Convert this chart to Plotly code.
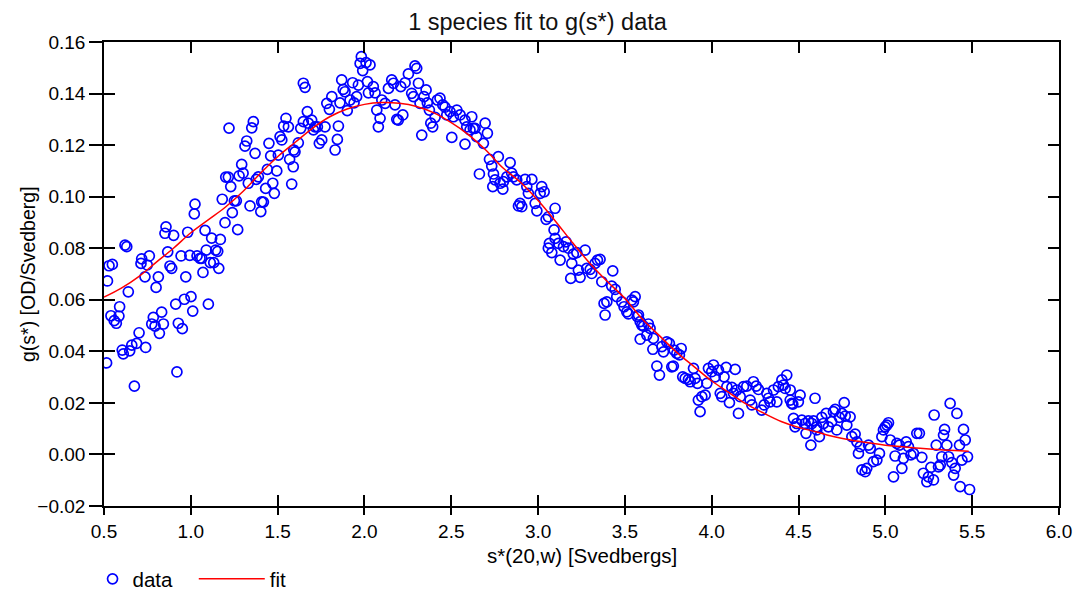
import plotly.graph_objects as go

# ---- data ----
points = [
    (0.515,0.0355),(0.52,0.0673),(0.529,0.0732),(0.548,0.0737),(0.54,0.0538),(0.559,0.0519),(0.571,0.0509),
    (0.586,0.0537),(0.59,0.0573),(0.621,0.0812),(0.631,0.0806),(0.64,0.0631),(0.605,0.0405),(0.611,0.039),
    (0.648,0.0402),(0.66,0.0424),(0.675,0.0265),(0.688,0.0431),(0.702,0.0472),(0.717,0.0759),(0.713,0.0741),
    (0.736,0.0689),(0.74,0.0415),(0.749,0.0735),(0.761,0.077),(0.775,0.0506),(0.784,0.0532),(0.8,0.0648),
    (0.813,0.0689),(0.794,0.0498),(0.819,0.047),(0.832,0.0552),(0.842,0.0506),(0.857,0.0883),(0.851,0.0858),
    (0.867,0.0786),(0.88,0.0731),(0.89,0.0722),(0.901,0.085),(0.913,0.0583),(0.92,0.032),(0.928,0.0509),
    (0.944,0.077),(0.951,0.0488),(0.963,0.0602),(0.971,0.0689),(0.982,0.0862),(0.994,0.0772),(1.001,0.0612),
    (1.011,0.0556),(1.024,0.0971),(1.02,0.0933),(1.036,0.077),(1.053,0.0761),(1.063,0.0761),(1.07,0.0706),
    (1.082,0.0869),(1.089,0.0793),(1.101,0.0583),(1.112,0.0744),(1.12,0.0839),(1.132,0.0744),(1.143,0.0793),
    (1.155,0.0788),(1.161,0.0722),(1.17,0.0834),(1.181,0.099),(1.197,0.0899),(1.201,0.1076),(1.216,0.1076),
    (1.22,0.1266),(1.23,0.1039),(1.239,0.0938),(1.251,0.0984),(1.262,0.0984),(1.27,0.0872),(1.278,0.1081),
    (1.293,0.1125),(1.301,0.1091),(1.312,0.1196),(1.322,0.1216),(1.331,0.1052),(1.341,0.0964),(1.351,0.1267),
    (1.36,0.1291),(1.37,0.1168),(1.377,0.1067),(1.389,0.1077),(1.403,0.0942),(1.408,0.098),(1.418,0.0979),
    (1.431,0.1032),(1.441,0.1106),(1.45,0.1207),(1.46,0.1158),(1.472,0.1052),(1.481,0.1013),(1.495,0.11),
    (1.504,0.1161),(1.514,0.1233),(1.524,0.122),(1.535,0.1274),(1.548,0.1304),(1.562,0.1271),(1.569,0.1145),
    (1.581,0.1049),(1.59,0.1116),(1.593,0.1181),
    (1.60,0.1174),(1.619,0.1209),(1.633,0.1265),(1.648,0.144),(1.658,0.1424),(1.648,0.1291),(1.671,0.133),
    (1.677,0.1285),(1.696,0.1297),(1.706,0.1259),(1.715,0.1271),(1.729,0.1271),(1.74,0.1207),(1.754,0.122),
    (1.773,0.1271),(1.783,0.1362),(1.798,0.1339),(1.812,0.1388),(1.831,0.1181),(1.844,0.1222),(1.85,0.1274),
    (1.859,0.1364),(1.869,0.1453),(1.878,0.1416),(1.888,0.1407),(1.901,0.1334),(1.917,0.1375),(1.932,0.1442),
    (1.94,0.1364),(1.955,0.1388),(1.965,0.1433),(1.975,0.1517),(1.982,0.1543),(1.99,0.1489),(2.009,0.152),
    (2.032,0.1511),(2.017,0.1446),(2.023,0.1403),(2.051,0.1427),(2.061,0.1403),(2.071,0.1336),(2.08,0.1271),
    (2.09,0.1304),(2.10,0.1375),(2.119,0.1362),(2.138,0.142),(2.157,0.1453),(2.167,0.144),(2.176,0.1356),
    (2.186,0.13),(2.195,0.1297),(2.209,0.1427),(2.221,0.1317),(2.234,0.1442),(2.253,0.1476),(2.272,0.1401),
    (2.282,0.1388),(2.291,0.1507),(2.301,0.1498),(2.311,0.144),(2.32,0.1362),(2.33,0.1239),(2.343,0.1388),
    (2.355,0.1414),(2.362,0.1364),(2.374,0.1336),(2.382,0.1285),(2.393,0.1271),(2.407,0.1308),(2.42,0.1375),
    (2.435,0.1382),(2.451,0.1356),(2.464,0.1347),(2.474,0.1317),(2.493,0.133),(2.503,0.123),(2.512,0.131),
    (2.532,0.1336),(2.551,0.1317),(2.579,0.1204),(2.589,0.1271),(2.618,0.131),(2.608,0.1259),(2.637,0.1265),
    (2.646,0.1233),(2.662,0.1088),
    (2.579,0.1297),(2.627,0.1265),(2.685,0.1207),(2.695,0.1285),(2.708,0.1246),(2.72,0.1145),(2.733,0.1119),
    (2.743,0.1088),(2.752,0.1065),(2.739,0.1039),(2.771,0.1155),(2.781,0.1052),(2.797,0.1029),(2.80,0.1058),
    (2.82,0.1077),(2.839,0.1132),(2.848,0.1091),(2.858,0.1077),(2.877,0.1065),(2.887,0.0964),(2.896,0.0974),
    (2.906,0.0961),(2.925,0.1067),(2.935,0.1039),(2.944,0.1013),(2.964,0.1067),(2.983,0.0974),(2.993,0.0945),
    (3.012,0.1013),(3.021,0.1039),(3.035,0.1019),(3.046,0.0912),(3.059,0.0922),(3.098,0.0955),(3.092,0.0871),
    (3.065,0.0819),(3.059,0.08),(3.079,0.0783),(3.098,0.0838),(3.117,0.0819),(3.127,0.0754),(3.146,0.0806),
    (3.161,0.0825),(3.175,0.08),(3.194,0.0741),(3.203,0.0777),(3.223,0.0783),(3.188,0.0683),(3.232,0.0715),
    (3.242,0.0687),(3.271,0.0793),(3.28,0.0722),(3.30,0.0718),(3.309,0.0702),(3.328,0.0741),(3.342,0.0754),
    (3.357,0.0757),(3.367,0.067),(3.38,0.0586),(3.386,0.0541),(3.396,0.0592),(3.43,0.0712),(3.424,0.0653),
    (3.444,0.064),(3.453,0.0612),(3.482,0.0592),(3.495,0.0573),(3.511,0.0553),(3.52,0.0545),(3.54,0.0599),
    (3.559,0.0612),(3.572,0.0535),(3.588,0.0515),(3.607,0.0498),(3.635,0.0506),
    (3.549,0.0592),(3.578,0.0541),(3.597,0.0502),(3.588,0.0447),(3.645,0.0489),(3.626,0.0463),(3.664,0.045),
    (3.661,0.0408),(3.684,0.0343),(3.699,0.0308),(3.713,0.0418),(3.722,0.0398),(3.741,0.0437),(3.756,0.0431),
    (3.77,0.034),(3.779,0.0343),(3.783,0.0405),(3.799,0.0392),(3.814,0.0386),(3.824,0.0411),(3.833,0.0301),
    (3.847,0.0295),(3.866,0.0291),(3.876,0.0282),(3.895,0.0334),(3.904,0.0295),(3.918,0.0276),(3.933,0.0166),
    (3.923,0.0211),(3.943,0.0224),(3.962,0.023),(3.972,0.0276),(3.981,0.0334),(4.0,0.0321),(4.01,0.0347),
    (4.02,0.0301),(4.039,0.0327),(4.049,0.0237),(4.058,0.0224),(4.071,0.0301),(4.083,0.0338),(4.087,0.0263),
    (4.102,0.0201),(4.116,0.026),(4.135,0.033),(4.125,0.0237),(4.144,0.025),(4.154,0.0159),(4.164,0.0224),
    (4.183,0.0263),(4.202,0.0265),(4.221,0.0211),(4.231,0.0192),(4.24,0.0282),(4.256,0.0265),(4.269,0.0252),
    (4.288,0.0172),(4.302,0.0192),(4.317,0.0237),(4.327,0.0218),(4.336,0.0204),(4.356,0.025),(4.375,0.0204),
    (4.384,0.0263),(4.404,0.0289),(4.413,0.0269),(4.432,0.0308),(4.452,0.025),(4.461,0.0198),(4.471,0.014),
    (4.509,0.023),(4.49,0.012),(4.519,0.0133),(4.538,0.012),(4.557,0.013),(4.571,0.0036),(4.576,0.012),
    (4.595,0.0218),(4.605,0.0107),
    (4.423,0.0256),(4.452,0.0211),(4.467,0.0195),(4.499,0.0204),(4.48,0.0107),(4.543,0.0082),(4.586,0.013),
    (4.605,0.0095),(4.62,0.0069),(4.634,0.0144),(4.643,0.012),(4.659,0.0159),(4.672,0.0107),(4.691,0.0127),
    (4.701,0.0166),(4.711,0.0175),(4.72,0.0095),(4.735,0.0144),(4.749,0.0159),(4.763,0.0201),(4.769,0.0149),
    (4.778,0.0114),(4.797,0.0146),(4.807,0.0069),(4.826,0.0079),(4.836,0.0049),(4.845,0.0004),(4.855,0.003),
    (4.865,-0.006),(4.884,-0.0067),(4.893,-0.0054),(4.903,0.0036),(4.913,0.0024),(4.931,-0.0028),(4.951,-0.0022),
    (4.966,0.0004),(4.98,0.0069),(4.989,0.0095),(4.999,0.0107),(5.009,0.0114),(5.018,0.0123),(5.028,0.0056),
    (5.047,-0.0087),(5.056,-0.0006),(5.066,0.0043),(5.081,0.0036),(5.095,-0.0054),(5.104,-0.0015),(5.12,0.0049),
    (5.133,0.003),(5.147,-0.0002),(5.162,0.0004),(5.181,0.0082),(5.196,0.0082),(5.21,-0.0011),(5.219,-0.0073),
    (5.239,-0.0106),(5.248,-0.0087),(5.262,-0.005),(5.277,-0.0099),(5.281,0.0153),(5.293,0.0036),(5.306,-0.0048),
    (5.316,-0.0041),(5.325,-0.0009),(5.335,0.0075),(5.341,0.0097),(5.354,0.0036),(5.364,-0.0009),(5.373,0.0198),
    (5.383,-0.0032),(5.393,-0.008),(5.402,-0.0054),(5.412,0.0159),(5.427,0.0036),(5.441,-0.0022),(5.45,0.0097),
    (5.46,0.0056),(5.431,-0.0125),(5.473,-0.0009),(5.485,-0.0136),
]
s_star = [p[0] for p in points]
g_star = [p[1] for p in points]

fit_s = [0.5,0.6,0.7,0.8,0.9,1.0,1.1,1.2,1.3,1.4,1.5,1.6,1.7,1.8,1.9,2.0,2.1,2.2,2.3,2.4,2.5,2.6,2.7,2.8,2.9,
         3.0,3.1,3.2,3.3,3.4,3.5,3.6,3.7,3.8,3.9,4.0,4.1,4.2,4.3,4.4,4.5,4.6,4.7,4.8,4.9,5.0,5.1,5.2,5.3,5.4,5.48]
fit_g = [0.061,0.0645,0.069,0.0745,0.080,0.086,0.091,0.096,0.102,0.109,0.1155,0.121,0.1265,0.131,0.134,0.1358,
         0.1365,0.1362,0.135,0.1325,0.1287,0.124,0.118,0.111,0.1055,0.0985,0.0905,0.082,0.074,0.067,0.0605,0.0525,
         0.046,0.0395,0.034,0.0285,0.024,0.0195,0.016,0.0128,0.0105,0.0088,0.007,0.0056,0.0045,0.0036,0.003,
         0.0024,0.0019,0.0015,0.0012]

x_range = [0.5, 6.0]
y_range = [-0.02, 0.16]
x_title = "s*(20,w) [Svedbergs]"
y_title = "g(s*) [OD/Svedberg]"
chart_title = "1 species fit to g(s*) data"

FONT = "Liberation Sans, Arial, sans-serif"

fig = go.Figure()
fig.add_trace(go.Scatter(
    x=s_star, y=g_star, mode="markers", name="data",
    marker=dict(symbol="circle-open", size=10, color="#0000FF", line=dict(width=1.7, color="#0000FF")),
    legend="legend",
))
fig.add_trace(go.Scatter(
    x=fit_s, y=fit_g, mode="lines", name="fit",
    line=dict(color="#FF0000", width=1.5, shape="spline"),
    legend="legend2",
))
# helper trace for the overlay axes that draw the inner ticks
fig.add_trace(go.Scatter(x=[None], y=[None], xaxis="x2", yaxis="y2", showlegend=False, hoverinfo="skip"))

axis_common = dict(showgrid=False, zeroline=False, showline=True, linecolor="black", linewidth=1.5,
                   tickcolor="black", tickwidth=1.5, automargin=False)

LEG_Y = 1 - 579 / 590

fig.update_layout(
    width=1075, height=590,
    margin=dict(l=104, r=16, t=42, b=84),
    paper_bgcolor="white", plot_bgcolor="white",
    font=dict(family=FONT, size=19, color="black"),
    title=dict(text=chart_title, x=0.5, xref="container", xanchor="center",
               y=1 - 22 / 590, yref="container", yanchor="middle", automargin=False,
               font=dict(family=FONT, size=23.5, color="#111111")),
    xaxis=dict(range=x_range, tick0=0.5, dtick=0.5, tickformat=".1f", ticks="outside", ticklen=7,
               mirror=True, tickfont=dict(size=19), ticklabelstandoff=0, **axis_common),
    yaxis=dict(range=y_range, tick0=-0.02, dtick=0.02, tickformat=".2f", ticks="outside", ticklen=13,
               mirror=True, tickfont=dict(size=19), **axis_common),
    xaxis2=dict(range=x_range, overlaying="x", anchor="y", side="bottom", tick0=0.5, dtick=0.5,
                ticks="inside", ticklen=11, mirror="ticks", showticklabels=False, **axis_common),
    yaxis2=dict(range=y_range, overlaying="y", anchor="x", side="left", tick0=-0.02, dtick=0.02,
                ticks="inside", ticklen=11, mirror="ticks", showticklabels=False, **axis_common),
    legend=dict(orientation="h", x=-0.012, xanchor="left", y=LEG_Y, yref="container", yanchor="middle",
                itemwidth=30, font=dict(size=20.5), bgcolor="rgba(0,0,0,0)"),
    legend2=dict(orientation="h", x=0.094, xanchor="left", y=LEG_Y, yref="container", yanchor="middle",
                 itemwidth=66, font=dict(size=20.5), bgcolor="rgba(0,0,0,0)"),
    showlegend=True,
    annotations=[
        dict(text=x_title, xref="paper", yref="paper", x=0.5, y=-(555 - 506) / 464,
             xanchor="center", yanchor="middle", showarrow=False, font=dict(size=20.5)),
        dict(text=y_title, xref="paper", yref="paper", x=-(104 - 28) / 955, y=0.5, textangle=-90,
             xanchor="center", yanchor="middle", showarrow=False, font=dict(size=19.5)),
    ],
)

fig.write_html("out.html", config={"displayModeBar": False},
               post_script="document.body.style.margin='0';")
